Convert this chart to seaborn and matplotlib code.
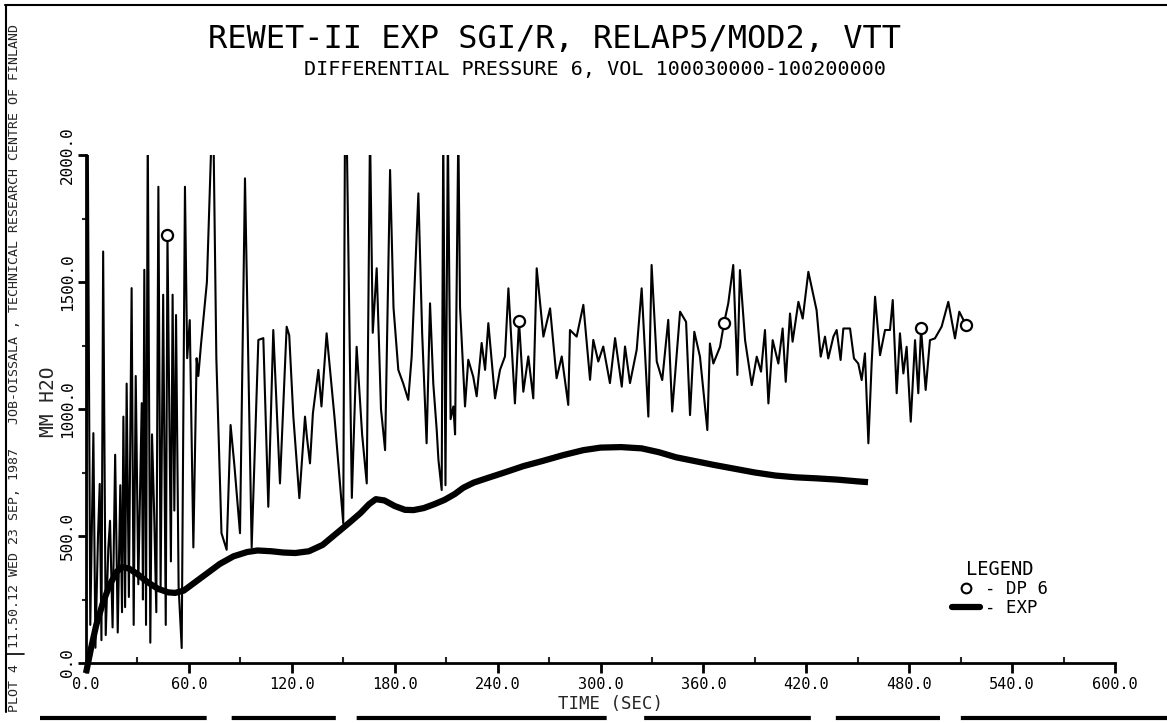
import numpy as np
import pandas as pd
import matplotlib
matplotlib.use("Agg")
import matplotlib.pyplot as plt
import seaborn as sns
from matplotlib.lines import Line2D
from matplotlib.ticker import MultipleLocator, FormatStrFormatter

# ---------------- data ----------------
dp6_time = [0, 1, 2.5, 4.3, 5.5, 7, 8, 9, 10, 11.5, 13, 14, 15.5, 17, 18.5, 20, 21, 21.8,
            22.8, 23.7, 25, 26.6, 27.8, 29, 30.5, 32.5, 33.2, 34, 35, 36, 37.5, 38.5, 39.7,
            41, 42.2, 43.5, 45, 46.5, 47.5, 49.5, 50.5, 51.5, 52.5, 54, 55.8, 57.7, 59, 60.5,
            62.6, 64.5, 65.5, 67, 70.5, 73.3, 74.3, 76, 79, 82, 84.3, 86.5, 89.8, 92.7, 96.6,
            100.5, 103.4, 106.3, 109.2, 113.1, 117, 118.5, 120.9, 124.4, 127.7, 128.8, 130.6,
            132.3, 135.5, 137.3, 140.3, 145, 150, 151, 152, 155, 157.8, 161, 163.7, 165.6,
            167.2, 169.5, 172, 174.4, 177.3, 179.3, 182.1, 185, 187.9, 189.9, 193.8, 196,
            198.6, 200.6, 202.5, 204.5, 205.5, 207.4, 208.3, 209.6, 211, 212.6, 214.2, 215.2,
            217.1, 218.1, 221, 222.9, 225.8, 227.8, 230.7, 232.7, 234.6, 238.5, 241.4, 244.3,
            246.3, 250.1, 252.5, 255, 257.9, 260.8, 262.8, 266.7, 270.6, 274.4, 277.4, 281.2,
            282.2, 286.1, 290, 293.9, 295.8, 298.7, 301.6, 305.5, 308.5, 312.4, 314.3, 317.2,
            321.1, 324, 327.9, 329.8, 332.8, 336, 339.5, 341.8, 346.4, 349.9, 352.2, 354.7,
            358, 362.3, 363.8, 365.8, 369.7, 372, 374.5, 377.4, 379.8, 381.3, 384.3, 388.2,
            391.1, 393.6, 395.9, 397.9, 400.4, 403.7, 406.2, 408, 410.5, 412, 415.4, 417.9,
            421.2, 426, 428.4, 430.9, 432.8, 435.8, 437.7, 440, 441.6, 445.5, 447.8, 450.3,
            452.3, 454.2, 456.2, 458.1, 460.1, 463, 465.9, 468.8, 470.4, 472.7, 474.6, 476.6,
            478.5, 480.9, 483.4, 485.3, 486.9, 489.6, 492.1, 495, 498.9, 502.8, 506.7, 509.2,
            513.1]
dp6_value = [80, 2100, 150, 905, 60, 500, 705, 90, 1620, 110, 450, 560, 140, 820, 120, 700, 200, 970,
             220, 1100, 260, 1476, 150, 1130, 310, 1023, 250, 1548, 150, 2100, 80, 900, 600,
             200, 1875, 300, 1450, 150, 1685, 400, 1450, 600, 1370, 300, 59, 1875, 1200, 1350,
             455, 1200, 1130, 1250, 1500, 2100, 2100, 1200, 511, 446, 937, 780, 511, 1908, 455,
             1272, 1279, 615, 1311, 707, 1324, 1290, 970, 649, 970, 890, 786,
             983, 1154, 1010, 1298, 960, 550, 2100, 2100, 650, 1245, 900, 707, 2100,
             1300, 1554, 1000, 838, 1941, 1400, 1154, 1100, 1036, 1207, 1849, 1300,
             865, 1416, 1100, 917, 800, 681, 2100, 700, 2100, 960, 1010, 900,
             2100, 1400, 1010, 1194, 1127, 1050, 1260, 1154, 1338, 1042, 1154, 1207,
             1475, 1022, 1345, 1068, 1207, 1042, 1554, 1285, 1396, 1121, 1207, 1016,
             1311, 1285, 1410, 1115, 1272, 1187, 1246, 1102, 1279, 1088, 1246, 1102,
             1233, 1475, 970, 1567, 1187, 1114, 1351, 990, 1383, 1343, 976, 1304,
             1206, 917, 1258, 1179, 1245, 1337, 1416, 1567, 1134, 1547, 1271, 1094,
             1206, 1147, 1311, 1022, 1271, 1179, 1317, 1107, 1376, 1265, 1422, 1356,
             1540, 1389, 1206, 1285, 1199, 1285, 1311, 1193, 1317, 1317, 1199, 1179,
             1114, 1219, 865, 1179, 1442, 1212, 1311, 1311, 1429, 1062, 1298, 1140,
             1245, 950, 1271, 1062, 1317, 1075, 1271, 1278, 1324, 1422, 1278, 1383,
             1331]
dp6_circle_times = [47.5, 252.5, 372, 486.9, 513.1]

exp_time = [0, 3, 6, 10, 14, 18, 21, 25, 30, 36, 42, 48, 52, 57, 63, 70, 78, 86, 94, 100, 108,
            115, 122, 130, 138, 146, 154, 160, 165, 169, 174, 180, 186, 191, 197, 203, 209,
            215, 220, 226, 234, 244, 255, 266, 278, 290, 300, 312, 324, 334, 344, 355, 366,
            378, 390, 402, 414, 426, 438, 450, 456]
exp_value = [-40, 60, 150, 240, 310, 360, 378, 372, 350, 318, 292, 278, 276, 285, 315, 350, 390,
             420, 437, 443, 440, 435, 433, 440, 465, 510, 555, 590, 625, 645, 640, 618, 603,
             602, 610, 625, 642, 665, 690, 710, 728, 750, 775, 795, 818, 838, 848, 850, 845,
             830, 810, 795, 780, 765, 750, 738, 731, 727, 722, 715, 712]

x_ticks = [0, 60, 120, 180, 240, 300, 360, 420, 480, 540, 600]
y_ticks = [0, 500, 1000, 1500, 2000]

title = "REWET-II EXP SGI/R, RELAP5/MOD2, VTT"
subtitle = "DIFFERENTIAL PRESSURE 6, VOL 100030000-100200000"
side_text = "11.50.12 WED 23 SEP, 1987   JOB-OISSALA , TECHNICAL RESEARCH CENTRE OF FINLAND"

# ---------------- figure ----------------
sns.set_theme(style="white")
plt.rcParams["font.family"] = ["DejaVu Sans Mono", "DejaVu Sans"]

W, H = 1167, 723
fig = plt.figure(figsize=(W / 100, H / 100), dpi=100)
fig.patch.set_facecolor("white")
ax = fig.add_axes([86 / W, 1 - 663 / H, (1115 - 86) / W, (663 - 155) / H])
ax.set_facecolor("white")

dp = pd.DataFrame({"t": dp6_time, "v": dp6_value})
ex = pd.DataFrame({"t": exp_time, "v": exp_value})
circle_idx = [int(np.argmin(np.abs(np.array(dp6_time) - c))) for c in dp6_circle_times]

sns.lineplot(data=dp, x="t", y="v", ax=ax, sort=False, estimator=None, color="black",
             lw=1.5, marker="o", markevery=circle_idx, ms=8, mfc="white", mec="black", mew=1.6)
sns.lineplot(data=ex, x="t", y="v", ax=ax, sort=False, estimator=None, color="black",
             lw=4.5, clip_on=False, solid_capstyle="butt")

ax.set_xlim(0, 600)
ax.set_ylim(0, 2000)
ax.set_xticks(x_ticks)
ax.set_yticks(y_ticks)
ax.xaxis.set_minor_locator(MultipleLocator(30))
ax.yaxis.set_minor_locator(MultipleLocator(250))
ax.xaxis.set_major_formatter(FormatStrFormatter("%.1f"))
ax.yaxis.set_major_formatter(FormatStrFormatter("%.1f"))
for s in ["top", "right"]:
    ax.spines[s].set_visible(False)
for s in ["left", "bottom"]:
    ax.spines[s].set_color("black")
    ax.spines[s].set_linewidth(2)
ax.tick_params(axis="x", which="major", direction="out", length=7, width=2, labelsize=11,
               pad=3, colors="black", bottom=True)
ax.tick_params(axis="x", which="minor", direction="in", length=4, width=1.5, bottom=True)
ax.tick_params(axis="y", which="major", direction="out", length=6, width=2, labelsize=11.5,
               pad=2, colors="black", left=True)
ax.tick_params(axis="y", which="minor", direction="out", length=3, width=1.5, left=True)
for lab in ax.get_yticklabels():
    lab.set_rotation(90)
    lab.set_va("center")
ax.set_xlabel("")
ax.set_ylabel("")
ax.grid(False)

# legend
handles = [Line2D([], [], ls="none", marker="o", ms=7, mfc="white", mec="black", mew=1.5),
           Line2D([], [], color="black", lw=4.5)]
leg = ax.legend(handles, ["- DP 6", "- EXP"], title="LEGEND", loc="upper center",
                bbox_to_anchor=((1000 - 86) / 1029, (663 - 550) / 508), frameon=False,
                fontsize=12.5, title_fontsize=13.5, handlelength=1.6, handletextpad=0.3,
                labelspacing=0.05, borderpad=0.1)
for t in leg.get_texts():
    t.set_color("black")
leg.get_title().set_color("black")

# texts
fig.text(555 / W, 1 - 40 / H, title, ha="center", va="center", fontsize=23, color="black")
fig.text(595 / W, 1 - 70 / H, subtitle, ha="center", va="center", fontsize=14.5, color="black")
fig.text(49 / W, 1 - 402 / H, "MM H2O", rotation=90, ha="center", va="center", fontsize=14)
fig.text(610 / W, 1 - 704 / H, "TIME (SEC)", ha="center", va="center", fontsize=12.5)
fig.text(15 / W, 1 - 648 / H, side_text, rotation=90, ha="center", va="bottom", fontsize=9.5)
fig.text(15 / W, 1 - 712 / H, "PLOT 4", rotation=90, ha="center", va="bottom", fontsize=9.5)

# page frame lines
fig.add_artist(Line2D([5 / W, 1], [1 - 5 / H, 1 - 5 / H], color="black", lw=1.5))
fig.add_artist(Line2D([6 / W, 6 / W], [1 - 5 / H, 1 - 712 / H], color="black", lw=1.5))
fig.add_artist(Line2D([7 / W, 24 / W], [1 - 654 / H, 1 - 654 / H], color="black", lw=1.2))
fig.add_artist(Line2D([40 / W, 1], [1 - 718 / H, 1 - 718 / H], color="black", lw=3,
                      dashes=(40, 6, 25, 5, 60, 9)))

fig.savefig("out.png", dpi=100)
